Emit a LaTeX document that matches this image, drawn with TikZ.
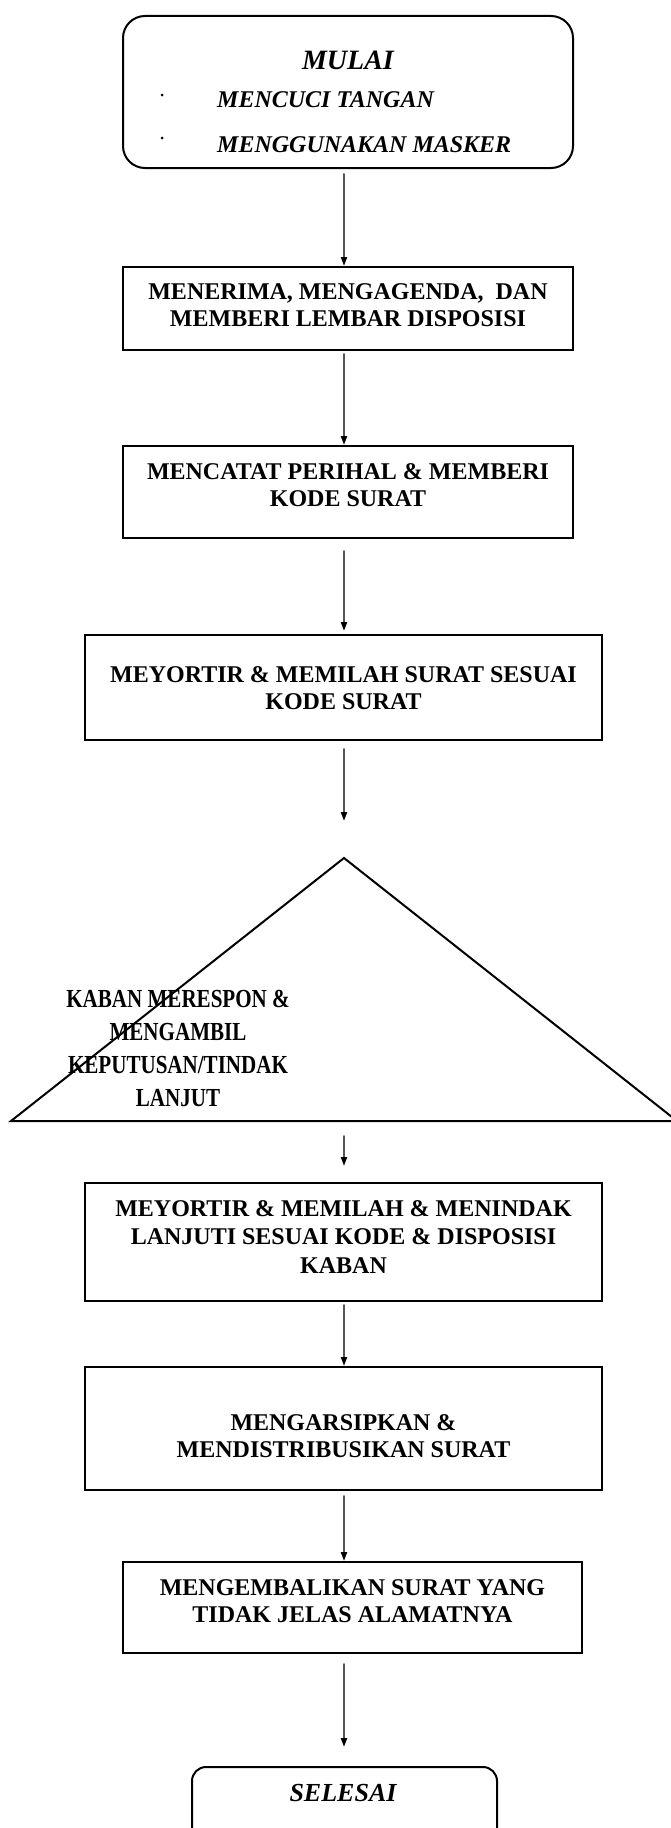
\documentclass[tikz,border=0pt]{standalone}
\usepackage{fontspec}
\setmainfont{Liberation Serif}
\newfontfamily\narrowserif[FakeStretch=0.81]{Liberation Serif}
\usetikzlibrary{arrows.meta,positioning}
\definecolor{flowgray}{RGB}{85,85,85}

\begin{document}
\begin{tikzpicture}[x=1pt,y=-1pt,line cap=round,
 procbox/.style={draw,line width=2pt,inner sep=0pt,minimum width=#1},
 procbox/.default=450pt,
 roundbox/.style={draw,line width=2pt,inner sep=0pt,rounded corners=#1},
 boxtext/.style={font=\fontsize{24}{27}\selectfont\bfseries,align=center,inner sep=0pt},
 itemtext/.style={font=\fontsize{24}{27}\selectfont\bfseries\itshape,inner sep=0pt},
 flow/.style={draw=flowgray,line width=2pt,-{Triangle[length=9pt,width=6pt,color=black]}}]
\path[use as bounding box,fill=white] (0,0) rectangle (671,1828);
\clip (0,0) rectangle (671,1828);
\coordinate (axis) at (344,0);

\node[roundbox=22pt,minimum width=450pt,minimum height=152pt] (mulai) at (348,92) {};
\node[itemtext,font=\fontsize{28}{30}\selectfont\bfseries\itshape] (mulaitxt) at (348,60) {MULAI};
\node[itemtext,anchor=west] (cuci) at (217,100) {MENCUCI TANGAN};
\node[itemtext,anchor=west] (masker) at (217,145) {MENGGUNAKAN MASKER};
\fill (162,95) circle (1.5pt);
\fill (162,138) circle (1.5pt);

\node[procbox,minimum height=83pt] (terima) at (348,308.5) {};
\node[boxtext] (terimatxt) at (348,305.5) {MENERIMA, MENGAGENDA, \ DAN\\MEMBERI LEMBAR DISPOSISI};

\node[procbox,minimum height=92pt] (catat) at (348,492) {};
\node[boxtext] (catattxt) at (348,485.5) {MENCATAT PERIHAL \& MEMBERI\\KODE SURAT};

\node[procbox=517pt,minimum height=105pt] (sortir) at (343.5,687.5) {};
\node[boxtext] (sortirtxt) at (343.5,688) {MEYORTIR \& MEMILAH SURAT SESUAI\\KODE SURAT};

\coordinate (kabantop) at (344,858);
\coordinate (kabanleft) at (11,1121);
\coordinate (kabanright) at (677,1121);
\draw[line width=2pt,line join=miter] (kabantop) -- (kabanleft) -- (kabanright) -- cycle;
\node[boxtext,font=\fontsize{26}{33}\selectfont\narrowserif\bfseries] (kaban) at (178,1048.5)
 {KABAN MERESPON \&\\MENGAMBIL\\KEPUTUSAN/TINDAK\\LANJUT};

\node[procbox=517pt,minimum height=118pt] (tindak) at (343.5,1242) {};
\node[boxtext,font=\fontsize{24}{28.5}\selectfont\bfseries] (tindaktxt) at (343.5,1237)
 {MEYORTIR \& MEMILAH \& MENINDAK\\LANJUTI SESUAI KODE \& DISPOSISI\\KABAN};

\node[procbox=517pt,minimum height=123pt] (arsip) at (343.5,1428.5) {};
\node[boxtext] (arsiptxt) at (343.5,1436.5) {MENGARSIPKAN \&\\MENDISTRIBUSIKAN SURAT};

\node[procbox=459pt,minimum height=91pt] (kembali) at (352.5,1607.5) {};
\node[boxtext] (kembalitxt) at (352.5,1601.5) {MENGEMBALIKAN SURAT YANG\\TIDAK JELAS ALAMATNYA};

\node[roundbox=14pt,minimum width=305pt,minimum height=100pt] (selesai) at (344.5,1817) {};
\node[itemtext,font=\fontsize{26}{28}\selectfont\bfseries\itshape] (selesaitxt) at (343,1793) {SELESAI};

\draw[flow,shorten <=5pt] (mulai.south -| axis) -- (terima.north -| axis);
\draw[flow,shorten <=3pt] (terima.south -| axis) -- (catat.north -| axis);
\draw[flow,shorten <=12pt,shorten >=3pt] (catat.south -| axis) -- (sortir.north -| axis);
\draw[flow,shorten <=8pt,shorten >=37pt] (sortir.south -| axis) -- (kabantop);
\draw[flow,shorten <=15pt,shorten >=16pt] (kabanleft -| axis) -- (tindak.north -| axis);
\draw[flow,shorten <=3pt] (tindak.south -| axis) -- (arsip.north -| axis);
\draw[flow,shorten <=5pt] (arsip.south -| axis) -- (kembali.north -| axis);
\draw[flow,shorten <=10pt,shorten >=19pt] (kembali.south -| axis) -- (selesai.north -| axis);
\end{tikzpicture}
\end{document}
